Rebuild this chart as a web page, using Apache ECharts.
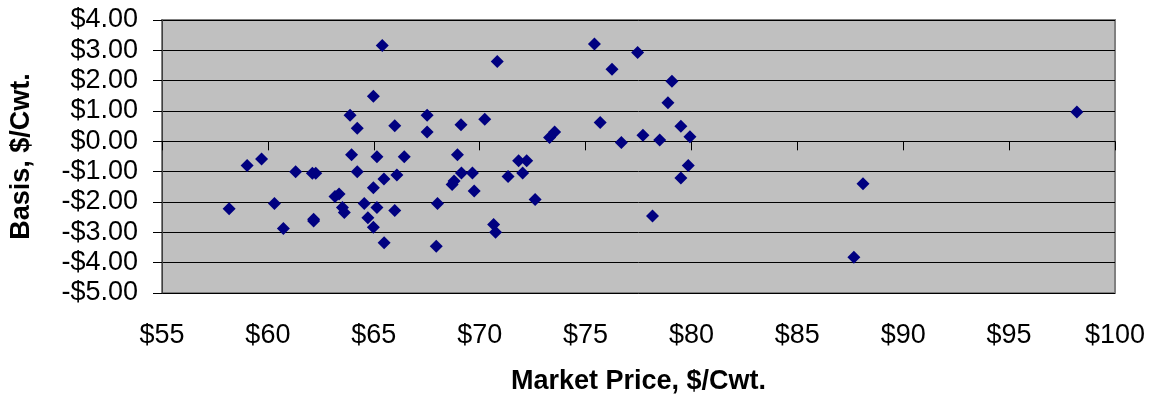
<!DOCTYPE html>
<html>
<head>
<meta charset="utf-8">
<script src="https://cdn.jsdelivr.net/npm/echarts@6/dist/echarts.min.js"></script>
<style>html,body{margin:0;padding:0;background:#fff}#c{width:1152px;height:400px}</style>
</head>
<body>
<div id="c"></div>
<script>
// Market price ($/Cwt.) and basis ($/Cwt.)
var marketPrice = [
  65.40, 64.98, 63.88, 64.22, 65.99, 67.52, 67.52, 63.95, 65.15, 66.44,
  59.02, 59.70, 61.31, 62.10, 62.26, 64.22, 65.48, 66.09, 64.98, 63.17,
  63.36, 64.55, 63.52, 63.61, 65.15, 65.99, 68.01, 58.17, 60.31, 64.72,
  62.16, 62.16, 64.98, 60.73, 65.49, 67.95,
  70.83, 75.42, 77.46, 76.25, 79.08, 78.89, 70.24, 69.12, 75.69, 79.50,
  79.93, 73.30, 73.54, 77.71, 78.50, 76.69, 68.95, 79.85, 71.84, 72.22,
  69.14, 69.66, 72.03, 71.34, 79.50, 68.79, 68.70, 69.74, 72.62, 78.16,
  70.66, 70.75,
  98.20, 88.10, 87.67
];
var basis = [
  3.16, 1.49, 0.86, 0.43, 0.51, 0.86, 0.31, -0.44, -0.51, -0.51,
  -0.80, -0.58, -1.00, -1.05, -1.05, -1.00, -1.24, -1.11, -1.53, -1.82,
  -1.74, -2.05, -2.18, -2.35, -2.18, -2.28, -2.05, -2.22, -2.05, -2.52,
  -2.57, -2.63, -2.83, -2.87, -3.34, -3.46,
  2.63, 3.21, 2.93, 2.38, 1.98, 1.27, 0.73, 0.55, 0.62, 0.50,
  0.15, 0.13, 0.31, 0.20, 0.04, -0.04, -0.44, -0.80, -0.64, -0.64,
  -1.04, -1.04, -1.04, -1.16, -1.21, -1.31, -1.42, -1.64, -1.92, -2.46,
  -2.74, -3.00,
  0.97, -1.40, -3.82
];
var xTitle = 'Market Price, $/Cwt.';
var yTitle = 'Basis, $/Cwt.';

var points = marketPrice.map(function (p, i) { return [p, basis[i]]; });
var font = '"Liberation Sans", Arial, sans-serif';

var chart = echarts.init(document.getElementById('c'));
chart.setOption({
  animation: false,
  backgroundColor: '#ffffff',
  grid: {
    left: 160, right: 37, top: 20, bottom: 105,
    show: true, backgroundColor: '#c0c0c0', borderColor: '#808080', borderWidth: 2
  },
  xAxis: [{
    type: 'value', min: 55, max: 100, interval: 5,
    axisLine: { show: true, onZero: true, lineStyle: { color: '#000', width: 1 } },
    axisTick: { show: true, inside: false, length: 9, lineStyle: { color: '#000' } },
    axisLabel: { show: false },
    splitLine: { show: false }
  }, {
    type: 'value', min: 55, max: 100, interval: 5, position: 'bottom',
    axisLine: { show: false, onZero: false },
    axisTick: { show: false },
    splitLine: { show: false },
    axisLabel: {
      show: true, margin: 29, color: '#000', fontSize: 27, fontFamily: font,
      formatter: function (v) { return '$' + v; }
    },
    name: xTitle, nameLocation: 'middle', nameGap: 75,
    nameTextStyle: { color: '#000', fontSize: 27, fontWeight: 'bold', fontFamily: font }
  }],
  yAxis: {
    type: 'value', min: -5, max: 4, interval: 1,
    axisLine: { show: true, lineStyle: { color: '#404040', width: 1 } },
    axisTick: { show: true, inside: false, length: 9, lineStyle: { color: '#000' } },
    splitLine: { show: true, lineStyle: { color: '#000', width: 1 } },
    axisLabel: {
      margin: 24, color: '#000', fontSize: 27, fontFamily: font,
      formatter: function (v) { return (v < 0 ? '-$' : '$') + Math.abs(v).toFixed(2); }
    },
    name: yTitle, nameLocation: 'middle', nameGap: 127, nameRotate: 90,
    nameTextStyle: { color: '#000', fontSize: 27, fontWeight: 'bold', fontFamily: font }
  },
  series: [{
    type: 'scatter', xAxisIndex: 0,
    data: points,
    symbol: 'diamond', symbolSize: 13,
    itemStyle: { color: '#000080', opacity: 1 }
  }]
});
</script>
</body>
</html>
